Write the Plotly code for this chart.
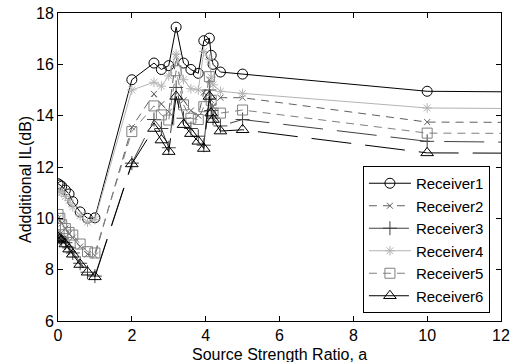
import plotly.graph_objects as go

x_vals = [0, 0.05, 0.1, 0.2, 0.3, 0.4, 0.6, 0.8, 1.0,
          2, 2.6, 2.8, 3.0, 3.2, 3.4, 3.6, 3.8, 3.95, 4.1, 4.15, 4.2, 4.4, 5, 10, 20]

receiver1 = [11.35, 11.3, 11.25, 11.1, 10.95, 10.65, 10.25, 10.0, 10.02,
             15.4, 16.05, 15.8, 15.95, 17.45, 16.05, 15.8, 15.65, 16.92, 17.02, 16.35, 16.0, 15.7, 15.62, 14.95, 14.85]
receiver2 = [10.0, 9.9, 9.8, 9.6, 9.4, 9.25, 8.9, 8.6, 8.55,
             13.55, 14.85, 14.45, 14.15, 16.3, 14.6, 14.2, 14.0, 14.9, 15.4, 14.6, 14.35, 14.7, 14.7, 13.75, 13.7]
receiver3 = [9.3, 9.25, 9.2, 9.05, 8.85, 8.65, 8.25, 7.9, 7.75,
             12.15, 13.85, 13.5, 12.75, 15.1, 13.9, 13.5, 13.2, 12.85, 15.0, 14.2, 13.9, 13.6, 13.85, 13.0, 12.85]
receiver4 = [11.1, 11.05, 11.0, 10.85, 10.7, 10.45, 10.1, 9.85, 9.95,
             15.0, 15.3, 15.15, 15.55, 16.4, 15.4, 15.05, 15.0, 16.5, 16.2, 15.5, 15.2, 14.95, 14.87, 14.3, 14.2]
receiver5 = [10.15, 10.0, 9.75, 9.6, 9.45, 9.35, 9.0, 8.7, 8.65,
             13.38, 14.38, 14.03, 13.83, 15.75, 14.42, 13.9, 13.85, 14.35, 15.52, 14.6, 14.1, 14.1, 14.22, 13.32, 13.28]
receiver6 = [9.25, 9.2, 9.15, 9.0, 8.8, 8.6, 8.2, 7.9, 7.72,
             12.12, 13.5, 13.05, 12.6, 14.75, 13.65, 13.3, 13.0, 12.72, 14.75, 14.1, 13.85, 13.4, 13.45, 12.55, 12.5]

names = ["Receiver1", "Receiver2", "Receiver3", "Receiver4", "Receiver5", "Receiver6"]
series = [receiver1, receiver2, receiver3, receiver4, receiver5, receiver6]
x_ticks = [0, 2, 4, 6, 8, 10, 12]
y_ticks = [6, 8, 10, 12, 14, 16, 18]
x_title = "Source Strength Ratio, a"
y_title = "Addditional IL(dB)"

styles = [
    dict(color="#000000", dash="solid", symbol="circle-open", size=10),
    dict(color="#606060", dash="8px,6px", symbol="x-thin-open", size=6),
    dict(color="#404040", dash="40px,14px", symbol="cross-thin-open", size=10),
    dict(color="#b4b4b4", dash="solid", symbol="asterisk-open", size=8),
    dict(color="#808080", dash="8px,6px", symbol="square-open", size=10),
    dict(color="#000000", dash="40px,14px", symbol="triangle-up-open", size=11),
]

fig = go.Figure()
for name, ys, st in zip(names, series, styles):
    fig.add_trace(go.Scatter(
        x=x_vals, y=ys, name=name, mode="lines+markers",
        line=dict(color=st["color"], width=1, dash=st["dash"]),
        marker=dict(symbol=st["symbol"], size=st["size"], color=st["color"],
                    line=dict(color=st["color"], width=1)),
    ))

font_family = "Liberation Sans, Arial, sans-serif"
fig.update_layout(
    width=516, height=362,
    margin=dict(l=58, r=15, t=13, b=41),
    paper_bgcolor="white", plot_bgcolor="white",
    font=dict(family=font_family, size=16, color="black"),
    showlegend=True,
    legend=dict(x=0.975, y=0.026, xanchor="right", yanchor="bottom",
                bgcolor="white", bordercolor="black", borderwidth=1,
                font=dict(size=15), tracegroupgap=0, itemwidth=42),
    annotations=[
        dict(text=x_title, xref="paper", yref="paper", x=0.5, y=-0.11,
             xanchor="center", yanchor="middle", showarrow=False,
             font=dict(size=16)),
        dict(text=y_title, xref="paper", yref="paper", x=-0.072, y=0.458,
             xanchor="center", yanchor="middle", showarrow=False, textangle=-90,
             font=dict(size=16)),
    ],
)
fig.update_xaxes(range=[0, 12], tickvals=x_ticks, automargin=False,
                 showline=True, linecolor="black", linewidth=1, mirror="ticks",
                 ticks="inside", ticklen=5, tickcolor="black",
                 showgrid=False, zeroline=False, tickfont=dict(size=16))
fig.update_yaxes(range=[6, 18], tickvals=y_ticks, automargin=False,
                 showline=True, linecolor="black", linewidth=1, mirror="ticks",
                 ticks="inside", ticklen=5, tickcolor="black",
                 showgrid=False, zeroline=False, tickfont=dict(size=16))

fig.write_html("out.html", config={"displayModeBar": False},
               post_script="document.body.style.margin='0';document.body.style.padding='0';")
